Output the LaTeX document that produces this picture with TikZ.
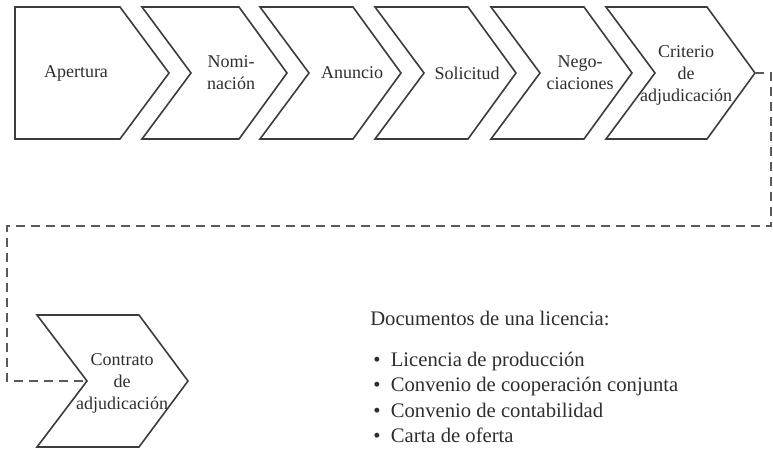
\documentclass[tikz,border=0pt]{standalone}
\usepackage{fontspec}
\setmainfont{Liberation Serif}
\usepackage{tikz}

\definecolor{edgegray}{HTML}{3C3C3C}
\definecolor{textgray}{HTML}{2E2E2E}
\definecolor{linkgray}{HTML}{5A5A5A}

\tikzset{
  stepline/.style={draw=edgegray, line width=1.2pt, line join=miter},
  steptext/.style={text=textgray, align=center, inner sep=0pt,
    font=\fontsize{13.5}{16.5}\selectfont},
  linkline/.style={draw=linkgray, line width=0.9pt, dash pattern=on 6.75pt off 4.5pt},
  doctext/.style={text=textgray, anchor=base west, inner sep=0pt,
    font=\fontsize{15.5}{19}\selectfont}
}

\begin{document}
\begin{tikzpicture}[x=0.75pt, y=-0.75pt]

  \useasboundingbox (0,0) rectangle (773,449);

  % First step, flat left side
  \draw[stepline] (15,7) -- (120,7) -- (169,73) -- (120,139) -- (15,139) -- cycle;

  % Notched steps of the top row
  \foreach \l/\r in {142/239, 260/353, 375/468, 491/584, 606/707}
    \draw[stepline] (\l,7) -- (\r,7) -- (\r+48,73) -- (\r,139) -- (\l,139) -- (\l+49,73) -- cycle;

  % Last step
  \draw[stepline] (37,315) -- (139,315) -- (188,381) -- (139,447) -- (37,447) -- (87,381) -- cycle;

  % Step labels
  \node[steptext] (apert) at (76,73) {Apertura};
  \node[steptext] (nomin) at (231,73) {Nomi-\\nación};
  \node[steptext] (anunc) at (352,73) {Anuncio};
  \node[steptext] (solic) at (467,73) {Solicitud};
  \node[steptext] (negoc) at (580,73) {Nego-\\ciaciones};
  \node[steptext] (crit) at (686,75) {Criterio\\de\\adjudicación};
  \node[steptext] (contr) at (122,383) {Contrato\\de\\adjudicación};

  % Link from the top row down to the last step
  \coordinate (crittip) at (755,73);
  \coordinate (contrnotch) at (87,381);
  \draw[linkline] (crittip) -- (771,73) |- (7,226) |- (contrnotch);

  % Documents
  \node[doctext] (docs) at (370,325) {Documentos de una licencia:};
  \foreach \txt [count=\i] in {Licencia de producción, Convenio de cooperación conjunta,
      Convenio de contabilidad, Carta de oferta}
    \node[doctext] (doc\i) at (373,340.5+25.5*\i) {\textbullet\enspace\txt};

\end{tikzpicture}
\end{document}
